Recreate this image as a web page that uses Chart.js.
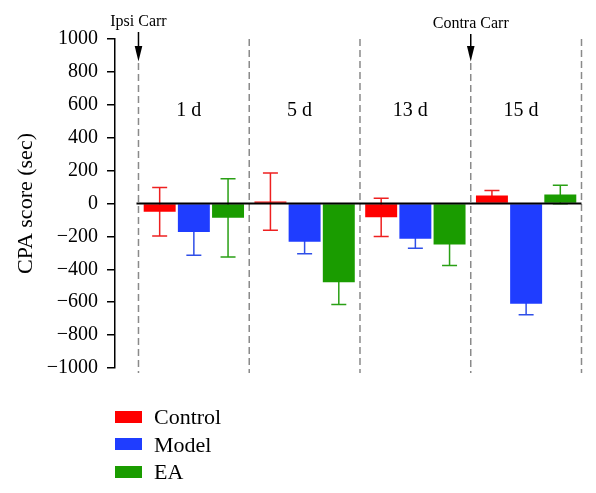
<!DOCTYPE html>
<html><head><meta charset="utf-8">
<script src="https://cdn.jsdelivr.net/npm/chart.js@4"></script>
<style>
html,body{margin:0;padding:0;background:#fff;}
#wrap{position:relative;width:596px;height:493px;overflow:hidden;}
canvas{position:absolute;left:0;top:0;}
#legend{position:absolute;left:115px;top:403px;font-family:'Liberation Serif',serif;font-size:22px;color:#000;}
.row{display:flex;align-items:center;height:27.5px;line-height:27.5px;white-space:nowrap;}
.sw{width:27px;height:12px;margin-right:12px;}
</style></head>
<body><div id="wrap"><canvas id="c" width="596" height="493"></canvas><div id="legend"></div></div>
<script>
// ---- data ----
const categories = ['1 d', '5 d', '13 d', '15 d'];
const seriesNames = ['Control', 'Model', 'EA'];
const controlMean = [-50, 12, -84, 49];
const controlErr = [148, 174, 116, 30];
const modelMean = [-174, -233, -215, -610];
const modelErr = [141, 73, 57, 67];
const eaMean = [-87, -478, -249, 55];
const eaErr = [238, 136, 128, 56];
const yTicks = [-1000, -800, -600, -400, -200, 0, 200, 400, 600, 800, 1000];
const markerLabels = ['Ipsi Carr', 'Contra Carr'];
const markerBefore = ['1 d', '15 d'];

// ---- styles ----
const colors = ['#ff0000', '#1f3dff', '#1a9c00'];
const errColors = ['#ee2020', '#2f4fe8', '#2aa015'];
const FONT = "'Liberation Serif', serif";

const means = [controlMean, modelMean, eaMean];
const errs = [controlErr, modelErr, eaErr];

const datasets = seriesNames.map((name, d) => ({
  label: name,
  data: means[d].map((v, i) => ({x: i, y: v})),
  errors: errs[d],
  backgroundColor: colors[d],
  borderWidth: 0,
  categoryPercentage: 0.926,
  barPercentage: 0.935
}));

// legend (HTML)
const leg = document.getElementById('legend');
seriesNames.forEach((n, d) => {
  const r = document.createElement('div'); r.className = 'row';
  const s = document.createElement('div'); s.className = 'sw'; s.style.background = colors[d];
  const t = document.createElement('span'); t.textContent = n;
  r.appendChild(s); r.appendChild(t); leg.appendChild(r);
});

const decor = {
  id: 'decor',
  beforeDatasetsDraw(chart) {
    const ctx = chart.ctx, xs = chart.scales.x, ys = chart.scales.y;
    const topY = ys.getPixelForValue(1000);
    ctx.save();
    // dashed separators
    ctx.strokeStyle = '#8a8a8a'; ctx.lineWidth = 1.5; ctx.setLineDash([7, 4]);
    for (let i = 0; i <= categories.length; i++) {
      const x = xs.getPixelForValue(i - 0.5);
      const hasMarker = i < categories.length && markerBefore.includes(categories[i]);
      ctx.beginPath();
      ctx.moveTo(x, hasMarker ? 63 : topY);
      ctx.lineTo(x, ys.bottom + 5);
      ctx.stroke();
    }
    ctx.setLineDash([]);
    // error bars (behind bars)
    chart.data.datasets.forEach((ds, d) => {
      const meta = chart.getDatasetMeta(d);
      ctx.strokeStyle = errColors[d]; ctx.lineWidth = 1.5;
      meta.data.forEach((bar, i) => {
        const m = ds.data[i].y, e = ds.errors[i];
        const y1 = ys.getPixelForValue(m + e), y2 = ys.getPixelForValue(m - e);
        ctx.beginPath();
        ctx.moveTo(bar.x, y1); ctx.lineTo(bar.x, y2);
        ctx.moveTo(bar.x - 7.5, y1); ctx.lineTo(bar.x + 7.5, y1);
        ctx.moveTo(bar.x - 7.5, y2); ctx.lineTo(bar.x + 7.5, y2);
        ctx.stroke();
      });
    });
    ctx.restore();
  },
  afterDatasetsDraw(chart) {
    const ctx = chart.ctx, xs = chart.scales.x, ys = chart.scales.y;
    ctx.save();
    // zero line
    const y0 = ys.getPixelForValue(0);
    ctx.strokeStyle = '#000'; ctx.lineWidth = 2;
    ctx.beginPath();
    ctx.moveTo(xs.getPixelForValue(-0.5) - 2, y0);
    ctx.lineTo(xs.getPixelForValue(categories.length - 0.5), y0);
    ctx.stroke();
    // category labels
    ctx.fillStyle = '#000';
    ctx.font = '20px ' + FONT;
    ctx.textAlign = 'center'; ctx.textBaseline = 'middle';
    categories.forEach((c, i) => {
      ctx.fillText(c, xs.getPixelForValue(i) - 5, 111);
    });
    // markers
    markerLabels.forEach((lab, k) => {
      const idx = categories.indexOf(markerBefore[k]);
      const x = xs.getPixelForValue(idx - 0.5);
      const off = k === 0 ? 0 : 2;
      ctx.font = '16px ' + FONT;
      ctx.textBaseline = 'alphabetic';
      ctx.fillText(lab, x, 25.5 + off);
      ctx.beginPath();
      ctx.lineWidth = 1.5;
      ctx.moveTo(x, 32 + off); ctx.lineTo(x, 50);
      ctx.stroke();
      ctx.beginPath();
      ctx.moveTo(x - 3.8, 46); ctx.lineTo(x + 3.8, 46); ctx.lineTo(x, 61.5);
      ctx.closePath(); ctx.fill();
    });
    ctx.restore();
  }
};

new Chart(document.getElementById('c'), {
  type: 'bar',
  data: { datasets },
  options: {
    responsive: false,
    animation: false,
    devicePixelRatio: 1,
    layout: { padding: { left: 0, top: 39, right: 14.5, bottom: 125 } },
    plugins: { legend: { display: false }, tooltip: { enabled: false } },
    scales: {
      x: {
        type: 'linear', display: false, offset: false,
        min: -0.712, max: categories.length - 0.5,
        afterBuildTicks: (s) => { s.ticks = categories.map((c, i) => ({value: i})); }
      },
      y: {
        min: yTicks[0], max: yTicks[yTicks.length - 1],
        afterBuildTicks: (s) => { s.ticks = yTicks.map(v => ({value: v})); },
        afterFit: (s) => { s.width = 115; },
        border: { display: true, color: '#000', width: 1.5 },
        grid: { drawOnChartArea: false, drawTicks: true, tickLength: 8, color: '#000', lineWidth: 1.5 },
        ticks: {
          padding: 9, color: '#000', font: { family: FONT, size: 20 },
          callback: (v) => v < 0 ? '\u2212' + Math.abs(v) : String(v)
        },
        title: {
          display: true, text: 'CPA score (sec)', color: '#000',
          font: { family: FONT, size: 22 }, padding: { top: 13, bottom: 0 }
        }
      }
    }
  },
  plugins: [decor]
});
</script>
</body></html>
